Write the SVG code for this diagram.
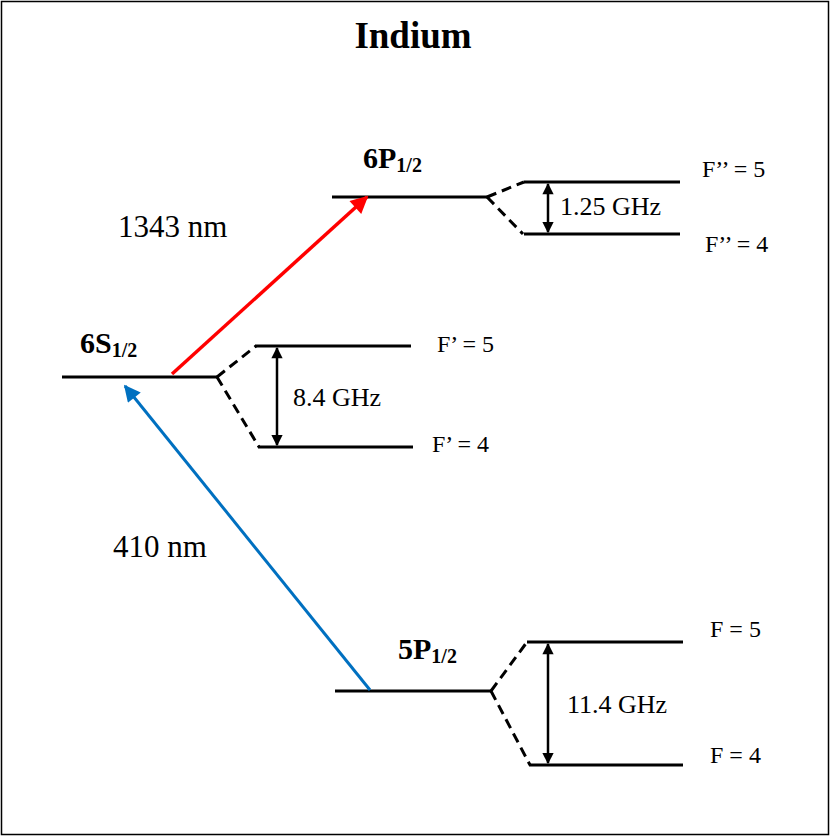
<svg xmlns="http://www.w3.org/2000/svg" width="830" height="837" viewBox="0 0 830 837">
<defs>
<style>
.lvl{stroke:#000;stroke-width:3;fill:none}
.dash{stroke:#000;stroke-width:3;fill:none;stroke-dasharray:10,6}
.sep{stroke:#000;stroke-width:2.5;fill:none}
.t{font-family:"Liberation Serif","Times New Roman",serif;fill:#000}
.lab{font-size:24px}
.ghz{font-size:26px}
.nm{font-size:31px}
.st{font-size:30px;font-weight:bold}
.sub{font-size:20px;font-weight:bold}
</style>
<marker id="hr" viewBox="0 0 10 10" refX="9" refY="5" markerWidth="6" markerHeight="5" markerUnits="strokeWidth" orient="auto"><path d="M0,0L10,5L0,10z" fill="#ff0000"/></marker>
<marker id="hb" viewBox="0 0 10 10" refX="9" refY="5" markerWidth="6.5" markerHeight="5.5" markerUnits="strokeWidth" orient="auto"><path d="M0,0L10,5L0,10z" fill="#0070c0"/></marker>
<marker id="hk" viewBox="0 0 10 10" refX="9" refY="5" markerWidth="5" markerHeight="4.5" markerUnits="strokeWidth" orient="auto-start-reverse"><path d="M0,0L10,5L0,10z" fill="#000"/></marker>
</defs>
<rect x="1.5" y="1.5" width="827" height="833" fill="#fff" stroke="#000" stroke-width="1.5"/>
<text class="t" x="413" y="48" font-size="37" font-weight="bold" text-anchor="middle">Indium</text>

<g id="level-6P">
<line class="lvl" x1="332" y1="197" x2="487" y2="197"/>
<text class="t st" x="363" y="168">6P<tspan class="sub" dy="4">1/2</tspan></text>
</g>
<g id="level-6P-F5">
<line class="lvl" x1="524" y1="182" x2="680" y2="182"/>
<text class="t lab" x="702" y="177">F’’ = 5</text>
</g>
<g id="level-6P-F4">
<line class="lvl" x1="524" y1="234" x2="680" y2="234"/>
<text class="t lab" x="705" y="252">F’’ = 4</text>
</g>

<g id="level-6S">
<line class="lvl" x1="62" y1="377" x2="217" y2="377"/>
<text class="t st" x="80" y="353">6S<tspan class="sub" dy="4">1/2</tspan></text>
</g>
<g id="level-6S-F5">
<line class="lvl" x1="255" y1="346" x2="411" y2="346"/>
<text class="t lab" x="437" y="352">F’ = 5</text>
</g>
<g id="level-6S-F4">
<line class="lvl" x1="258" y1="447" x2="413" y2="447"/>
<text class="t lab" x="432" y="452">F’ = 4</text>
</g>

<g id="level-5P">
<line class="lvl" x1="335" y1="691" x2="491" y2="691"/>
<text class="t st" x="398" y="659">5P<tspan class="sub" dy="4">1/2</tspan></text>
</g>
<g id="level-5P-F5">
<line class="lvl" x1="527" y1="642" x2="683" y2="642"/>
<text class="t lab" x="710" y="637">F = 5</text>
</g>
<g id="level-5P-F4">
<line class="lvl" x1="529" y1="765" x2="683" y2="765"/>
<text class="t lab" x="710" y="763">F = 4</text>
</g>

<g id="connectors">
<path class="dash" d="M487,197L524,182M487,197L523,234"/>
<path class="dash" d="M217,377L256,346M217,377L259,447"/>
<path class="dash" d="M491,691L527,642M491,691L530,765"/>
<line class="sep" x1="548" y1="184" x2="548" y2="232" marker-start="url(#hk)" marker-end="url(#hk)"/>
<line class="sep" x1="277" y1="348" x2="277" y2="445" marker-start="url(#hk)" marker-end="url(#hk)"/>
<line class="sep" x1="548" y1="644" x2="548" y2="763" marker-start="url(#hk)" marker-end="url(#hk)"/>
<line x1="172" y1="374" x2="367" y2="197" stroke="#ff0000" stroke-width="3.5" marker-end="url(#hr)"/>
<line x1="370" y1="690" x2="125" y2="386" stroke="#0070c0" stroke-width="3" marker-end="url(#hb)"/>
</g>

<text class="t ghz" x="560" y="215">1.25 GHz</text>
<text class="t ghz" x="293" y="406">8.4 GHz</text>
<text class="t ghz" x="567" y="713">11.4 GHz</text>
<text class="t nm" x="118" y="237">1343 nm</text>
<text class="t nm" x="113" y="557">410 nm</text>
</svg>
